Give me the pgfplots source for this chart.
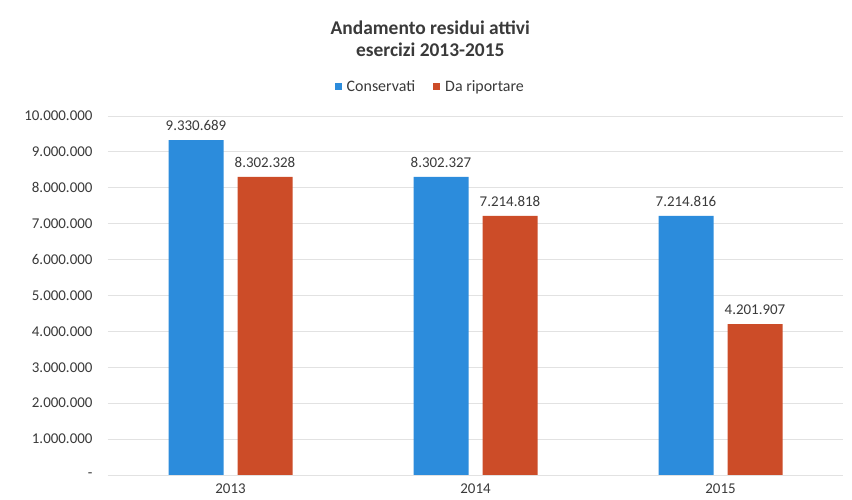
\documentclass[border=0pt]{standalone}
\usepackage{pgfplots}
\pgfplotsset{compat=1.18}
\usepackage{fontspec}
\setmainfont{Carlito}
\definecolor{cblue}{HTML}{2C8CDC}
\definecolor{cred}{HTML}{CC4C28}
\definecolor{gridc}{HTML}{E2E2E2}
\definecolor{txt}{HTML}{3A3A3A}
\begin{document}
\begin{tikzpicture}[x=1bp,y=1bp]
\useasboundingbox[fill=white] (-108,-25) rectangle (744,475);
\begin{axis}[at={(0,0)},anchor=south west,
  scale only axis, width=735bp, height=359bp,
  xmin=-0.5, xmax=2.5, ymin=0, ymax=10000000,
  scaled y ticks=false,
  xtick={0,1,2}, xticklabels={2013,2014,2015},
  ytick={0,1000000,2000000,3000000,4000000,5000000,6000000,7000000,8000000,9000000,10000000},
  yticklabels={-,1.000.000,2.000.000,3.000.000,4.000.000,5.000.000,6.000.000,7.000.000,8.000.000,9.000.000,10.000.000},
  axis line style={draw=none},
  major tick length=0pt,
  ymajorgrids, grid style={draw=gridc, line width=0.8pt},
  yticklabel style={font=\fontsize{15}{17}\selectfont, text=txt, xshift=-12bp},
  xticklabel style={font=\fontsize{15}{17}\selectfont, text=txt, yshift=-5bp},
  ybar, bar width=55bp,
  point meta=explicit symbolic,
  nodes near coords,
  nodes near coords style={font=\fontsize{15}{17}\selectfont, text=txt, anchor=south, inner sep=0pt, yshift=9bp},
  title={Andamento residui attivi\\esercizi 2013-2015},
  title style={font=\fontsize{19.5}{22}\selectfont\bfseries, text=txt, align=center, at={(0.4385,1.198)}, anchor=center},
  legend columns=2,
  legend style={draw=none, fill=none, at={(0.4385,1.081)}, anchor=center,
    font=\fontsize{16}{18}\selectfont, text=txt,
    /tikz/every even column/.append style={column sep=16bp}},
  legend image code/.code={\fill[#1] (0bp,-3.5bp) rectangle (7bp,3.5bp); \path (10bp,0bp);},
]
\addplot[fill=cblue, draw=none, bar shift=-34.5bp] coordinates {
  (0,9330689) [9.330.689]
  (1,8302327) [8.302.327]
  (2,7214816) [7.214.816]
};
\addlegendentry{Conservati}
\addplot[fill=cred, draw=none, bar shift=34.5bp] coordinates {
  (0,8302328) [8.302.328]
  (1,7214818) [7.214.818]
  (2,4201907) [4.201.907]
};
\addlegendentry{Da riportare}
\end{axis}
\end{tikzpicture}
\end{document}
